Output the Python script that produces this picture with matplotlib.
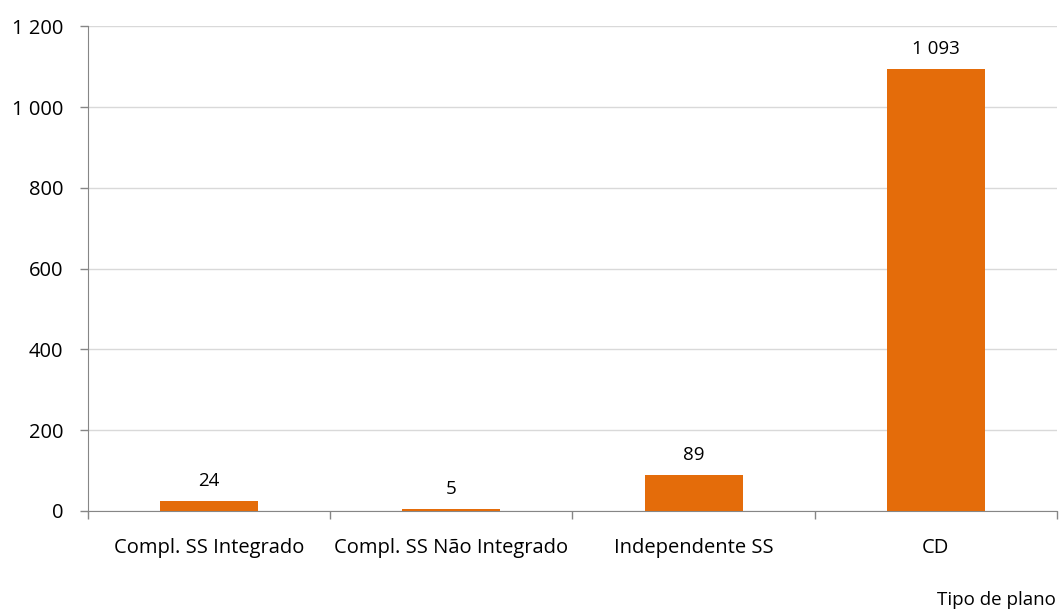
import matplotlib
matplotlib.use("Agg")
import matplotlib.pyplot as plt
import numpy as np

plt.rcParams['font.family'] = ['Open Sans', 'DejaVu Sans']

categories = ['Compl. SS Integrado', 'Compl. SS Não Integrado', 'Independente SS', 'CD']
values = [24, 5, 89, 1093]
y_ticks = [0, 200, 400, 600, 800, 1000, 1200]


def fmt(v):
    # thousands separated by a space
    return f"{v:,}".replace(",", " ")


fig = plt.figure(figsize=(10.59, 6.10), dpi=100)
ax = fig.add_axes([0.0831, 0.1623, 0.9149, 0.7947])

x = np.arange(len(categories))
bars = ax.bar(x, values, width=0.405, color='#E46C0A', zorder=3)

for b, v in zip(bars, values):
    ax.annotate(fmt(v), (b.get_x() + b.get_width() / 2, b.get_height()),
                xytext=(0, 8), textcoords='offset points',
                ha='center', va='bottom', fontsize=13.5, color='black')

ax.set_xlim(-0.5, len(categories) - 0.5)
ax.set_ylim(0, 1200)
ax.set_yticks(y_ticks)
ax.set_yticklabels([fmt(t) for t in y_ticks], fontsize=14.5)
ax.yaxis.grid(True, color='#D9D9D9', linewidth=1, zorder=0)

# category ticks sit between bars, labels centred under bars
ax.set_xticks(np.arange(len(categories) + 1) - 0.5)
ax.set_xticklabels([])
ax.set_xticks(x, minor=True)
ax.set_xticklabels(categories, minor=True, fontsize=14.5)
ax.tick_params(axis='x', which='major', length=6, color='#868686', width=1)
ax.tick_params(axis='x', which='minor', length=0, pad=19.5)
ax.tick_params(axis='y', length=6, color='#868686', width=1, pad=12)

for s in ['top', 'right']:
    ax.spines[s].set_visible(False)
for s in ['left', 'bottom']:
    ax.spines[s].set_color('#868686')

fig.text(0.997, 0.002, 'Tipo de plano', ha='right', va='bottom', fontsize=13.5)

fig.savefig('out.png', dpi=100)
